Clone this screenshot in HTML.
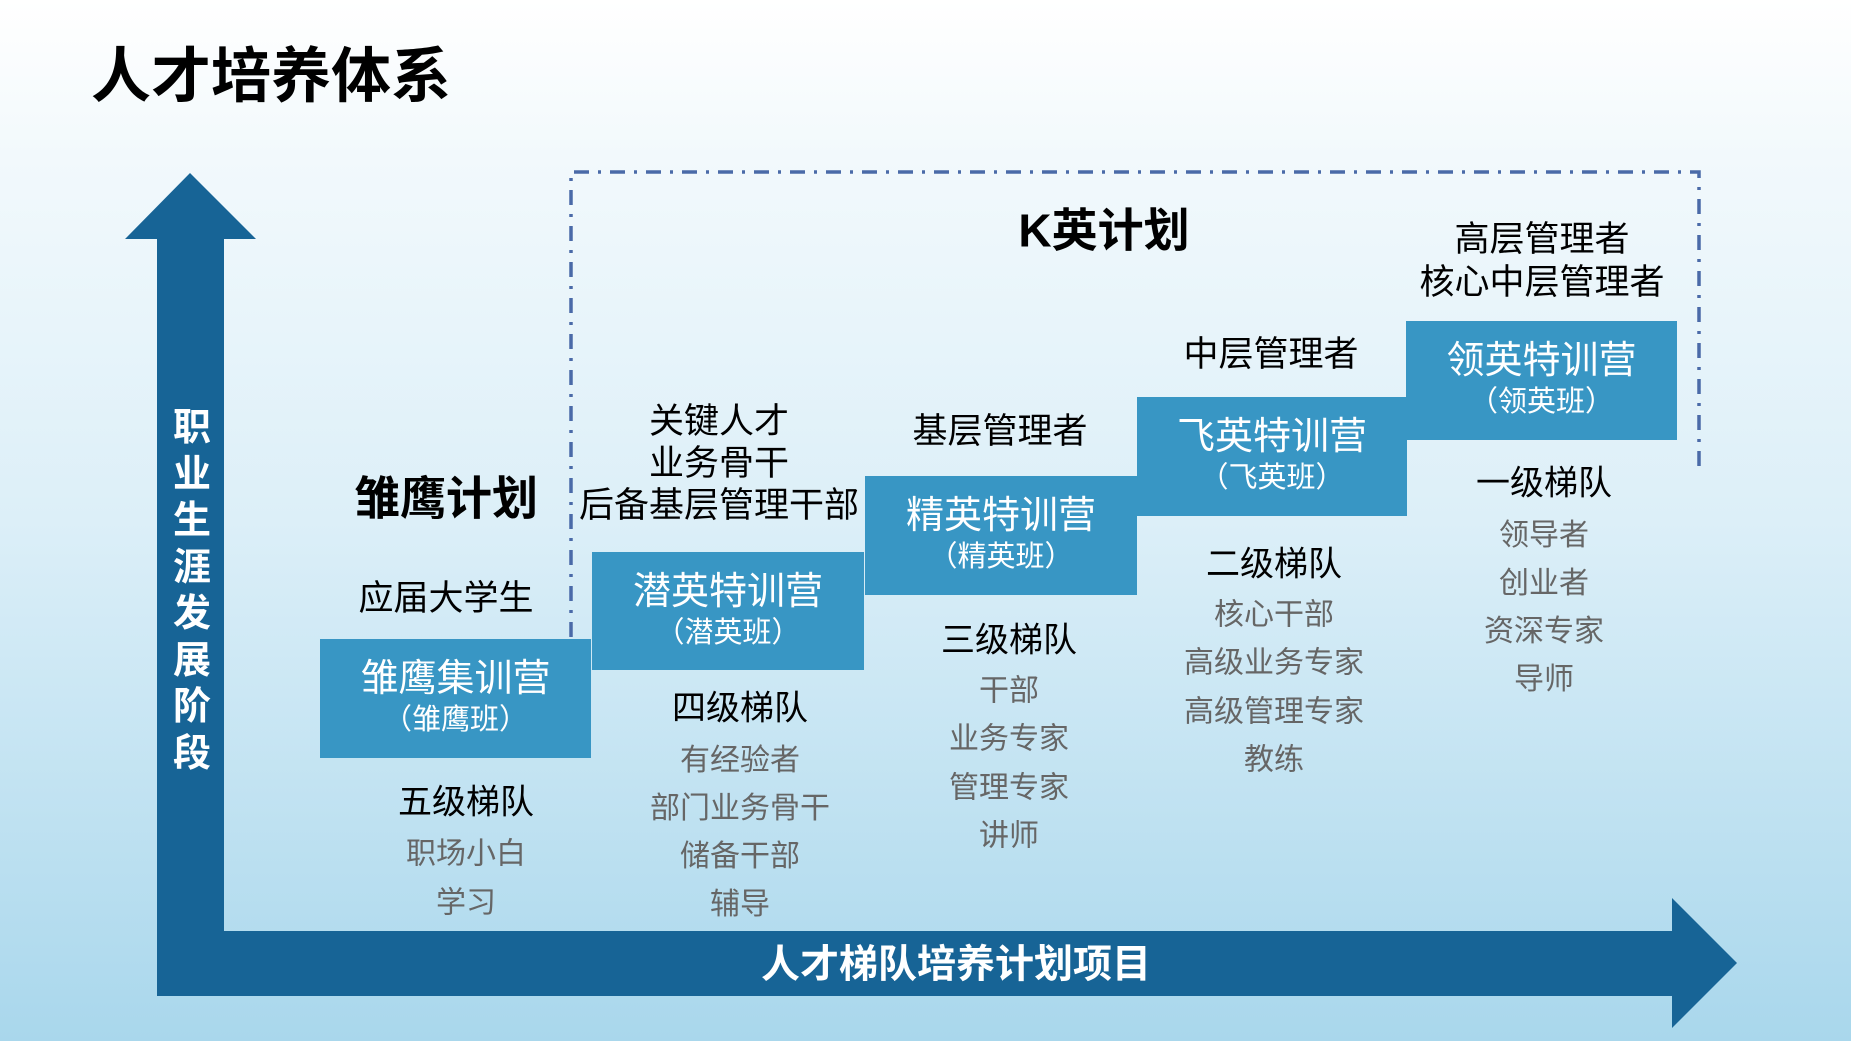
<!DOCTYPE html>
<html><head><meta charset="utf-8"><style>
html,body{margin:0;padding:0}
body{width:1851px;height:1041px;position:relative;overflow:hidden;
background:linear-gradient(to bottom,#ffffff 0%,#f2f9fc 15%,#dceff8 50%,#a9d7ec 100%);
font-family:"Liberation Sans","Noto Sans CJK SC",sans-serif;}
.t{position:absolute;transform:translate(-50%,-50%);white-space:nowrap;text-align:center;line-height:1.2}
.box{position:absolute;background:#3896c4;color:#fff;text-align:center}
.box .a{font-size:38px;line-height:44px;margin-top:18px}
.box .b{font-size:29px;line-height:32px;margin-top:3px}
.h{font-size:34px;color:#000}
.g{font-size:30px;color:#666}
.k{font-size:35px;color:#000}
</style></head><body>
<div style="position:absolute;left:91px;top:28px;font-size:60px;font-weight:bold;color:#000">人才培养体系</div>
<svg width="1851" height="1041" style="position:absolute;left:0;top:0">
<polygon fill="#176496" points="190,173 256,239 224,239 224,931 1672,931 1672,898 1737,963 1672,1028 1672,996 157,996 157,239 125,239"/>
<g stroke="#4a6aa8" stroke-width="3.5" fill="none" stroke-dasharray="15,9,3,9">
<path d="M571,637 L571,172 L1699,172 L1699,468"/>
</g>
</svg>
<div style="position:absolute;left:172px;top:405px;width:40px;font-size:38px;line-height:46.5px;font-weight:bold;color:#fff;text-align:center">职<br>业<br>生<br>涯<br>发<br>展<br>阶<br>段</div>
<div class="t" style="left:956px;top:966px;font-size:39px;font-weight:bold;color:#fff">人才梯队培养计划项目</div>

<div class="box" style="left:320px;top:639px;width:271px;height:119px"><div class="a">雏鹰集训营</div><div class="b">（雏鹰班）</div></div>
<div class="box" style="left:592px;top:552px;width:272px;height:118px"><div class="a">潜英特训营</div><div class="b">（潜英班）</div></div>
<div class="box" style="left:865px;top:476px;width:272px;height:119px"><div class="a">精英特训营</div><div class="b">（精英班）</div></div>
<div class="box" style="left:1137px;top:397px;width:270px;height:119px"><div class="a">飞英特训营</div><div class="b">（飞英班）</div></div>
<div class="box" style="left:1406px;top:321px;width:271px;height:119px"><div class="a">领英特训营</div><div class="b">（领英班）</div></div>

<div class="t" style="left:446px;top:499px;font-size:46px;font-weight:bold">雏鹰计划</div>
<div class="t" style="left:1104px;top:231px;font-size:46px;font-weight:bold">K英计划</div>
<div class="t k" style="left:446px;top:599px">应届大学生</div>
<div class="t k" style="left:719px;top:464px;line-height:42px">关键人才<br>业务骨干<br>后备基层管理干部</div>
<div class="t k" style="left:1000px;top:432px">基层管理者</div>
<div class="t k" style="left:1271px;top:355px">中层管理者</div>
<div class="t k" style="left:1542px;top:261px;line-height:43px">高层管理者<br>核心中层管理者</div>

<div class="t h" style="left:466px;top:803px">五级梯队</div>
<div class="t g" style="left:466px;top:879px;line-height:48.5px">职场小白<br>学习</div>
<div class="t h" style="left:740px;top:709px">四级梯队</div>
<div class="t g" style="left:740px;top:833px;line-height:48px">有经验者<br>部门业务骨干<br>储备干部<br>辅导</div>
<div class="t h" style="left:1009px;top:641px">三级梯队</div>
<div class="t g" style="left:1009px;top:764px;line-height:48.3px">干部<br>业务专家<br>管理专家<br>讲师</div>
<div class="t h" style="left:1274px;top:565px">二级梯队</div>
<div class="t g" style="left:1274px;top:688px;line-height:48.3px">核心干部<br>高级业务专家<br>高级管理专家<br>教练</div>
<div class="t h" style="left:1544px;top:484px">一级梯队</div>
<div class="t g" style="left:1544px;top:608px;line-height:48px">领导者<br>创业者<br>资深专家<br>导师</div>
</body></html>
